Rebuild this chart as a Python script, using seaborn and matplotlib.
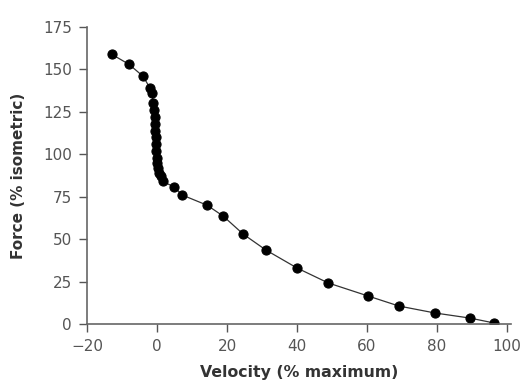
import matplotlib

matplotlib.use("Agg")

import matplotlib.pyplot as plt
import pandas as pd
import seaborn as sns

velocity = [-13, -8, -4, -2, -1.4, -1.1, -0.9, -0.7, -0.55, -0.45, -0.35, -0.25,
            -0.15, -0.05, 0.05, 0.2, 0.45, 1.0, 1.7, 4.9, 7.2, 14.3, 18.9, 24.6,
            31.1, 40.0, 48.9, 60.3, 69.1, 79.4, 89.4, 96.3]
force = [159, 153, 146, 139, 136, 130, 126, 122, 118, 114, 110, 106,
         102, 98, 95, 92, 89, 87, 84, 80.7, 76, 70, 63.6, 53,
         43.6, 33, 24.2, 16.5, 10.6, 6.5, 3.5, 0.6]

df = pd.DataFrame({"velocity": velocity, "force": force})

sns.set_style("ticks")
plt.rcParams["font.family"] = ["DejaVu Sans"]

fig = plt.figure(figsize=(5.21, 3.83), dpi=100)
ax = fig.add_axes([0.167, 0.154, 0.813, 0.7755])

sns.lineplot(data=df, x="velocity", y="force", sort=False, color="#333333",
             linewidth=0.9, marker="o", markersize=6.6, markerfacecolor="black",
             markeredgecolor="black", ax=ax)

ax.set_xlim(-20, 101)
ax.set_ylim(0, 175)
ax.set_xticks([-20, 0, 20, 40, 60, 80, 100])
ax.set_yticks([0, 25, 50, 75, 100, 125, 150, 175])
ax.set_xlabel("Velocity (% maximum)", fontsize=11.3, fontweight="bold",
              color="#333333", labelpad=8)
ax.set_ylabel("Force (% isometric)", fontsize=11, fontweight="bold",
              color="#333333", labelpad=12)

for side in ["top", "right"]:
    ax.spines[side].set_visible(False)
for side in ["left", "bottom"]:
    ax.spines[side].set_color("#666666")
    ax.spines[side].set_linewidth(1.2)
ax.tick_params(colors="#555555", labelsize=11, length=6, width=1,
               pad=5, labelcolor="#555555")
ax.patch.set_alpha(0)

fig.savefig("out.png", dpi=100)
